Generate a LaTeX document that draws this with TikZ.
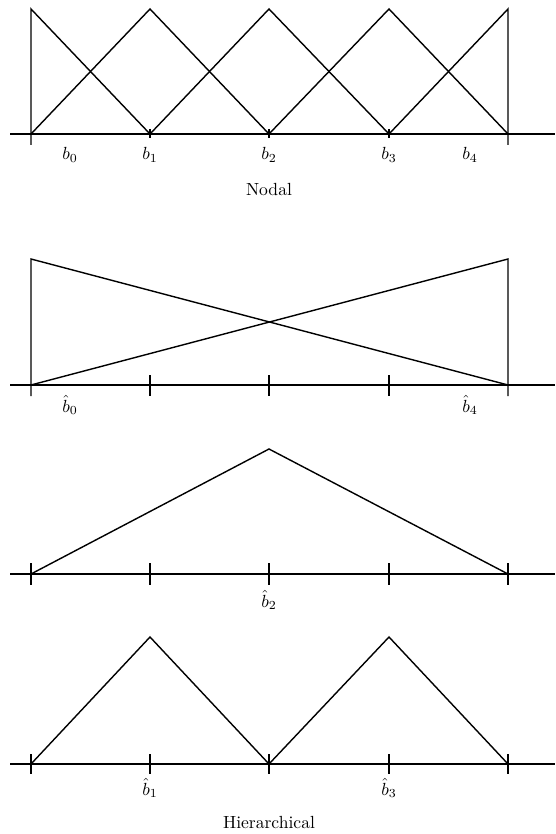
\documentclass[tikz,border=0pt]{standalone}
\usepackage{amsmath}
\usetikzlibrary{positioning}
\begin{document}
\begin{tikzpicture}[
    x=0.02cm, y=-0.02cm,
    basis/.style={line width=0.8pt, line join=miter},
    axisline/.style={line width=0.7pt},
    tick/.style={line width=0.7pt},
    lbl/.style={inner sep=1pt}
]
\useasboundingbox (0,0) rectangle (555,834);

% nodal basis
\draw[axisline] (10,134) -- (555,134);
\foreach \x in {150, 269, 389}
    \draw[tick] (\x,129) -- (\x,138);
\draw[basis] (31,145) -- (31,9) -- (150,134) -- (269,9) -- (389,134) -- (508,9) -- (508,145);
\draw[basis] (31,134) -- (150,9) -- (269,134) -- (389,9) -- (508,134);

\node[lbl] (b0) at (70,155) {$b_0$};
\node[lbl] (b1) at (150,155) {$b_1$};
\node[lbl] (b2) at (269,155) {$b_2$};
\node[lbl] (b3) at (389,155) {$b_3$};
\node[lbl] (b4) at (470,155) {$b_4$};
\node[lbl] (nodal) at (269,190) {Nodal};

% hierarchical, level 0
\draw[axisline] (10,385) -- (555,385);
\foreach \x in {150, 269, 389}
    \draw[tick] (\x,375) -- (\x,396);
\draw[basis] (31,396) -- (31,259) -- (508,385);
\draw[basis] (31,385) -- (508,259) -- (508,396);

\node[lbl] (hb0) at (70,405) {$\hat{b}_0$};
\node[lbl] (hb4) at (470,405) {$\hat{b}_4$};

% hierarchical, level 1
\draw[axisline] (10,574) -- (555,574);
\foreach \x in {31, 150, 269, 389, 508}
    \draw[tick] (\x,563) -- (\x,585);
\draw[basis] (31,574) -- (269,449) -- (508,574);

\node[lbl] (hb2) at (269,600) {$\hat{b}_2$};

% hierarchical, level 2
\draw[axisline] (10,764) -- (555,764);
\foreach \x in {31, 150, 269, 389, 508}
    \draw[tick] (\x,754) -- (\x,774);
\draw[basis] (31,764) -- (150,637) -- (269,764) -- (389,637) -- (508,764);

\node[lbl] (hb1) at (150,788) {$\hat{b}_1$};
\node[lbl] (hb3) at (389,788) {$\hat{b}_3$};
\node[lbl] (hier) at (269,822) {Hierarchical};

\end{tikzpicture}
\end{document}
